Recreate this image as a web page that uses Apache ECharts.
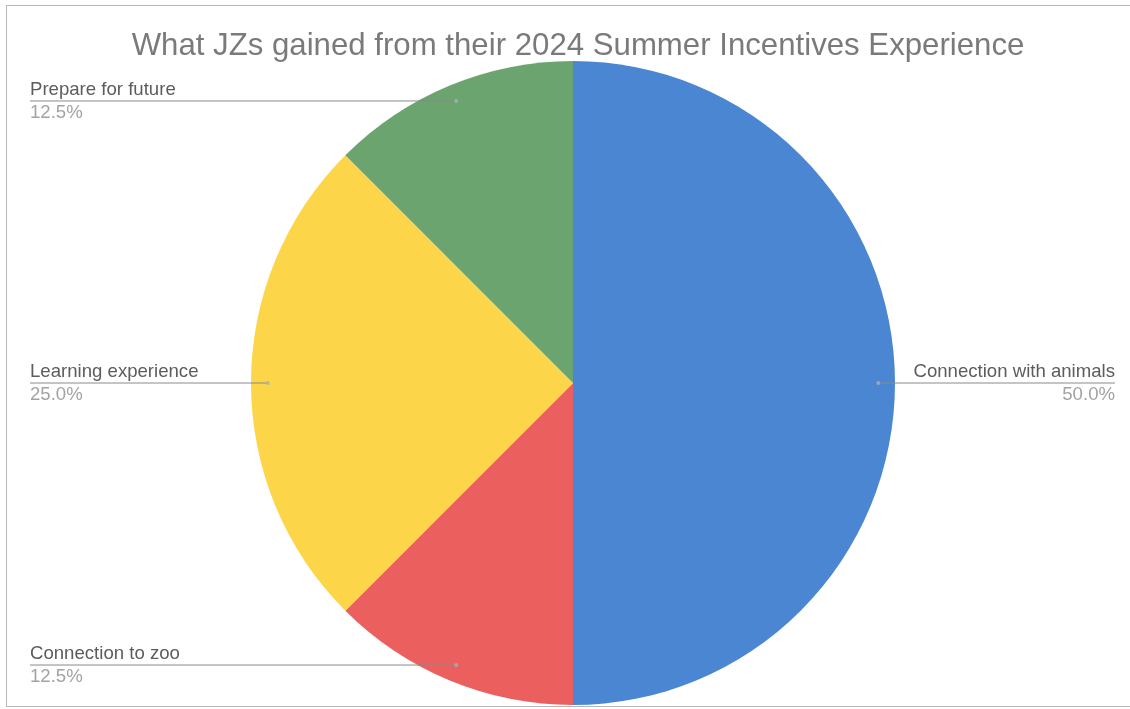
<!DOCTYPE html>
<html>
<head>
<meta charset="utf-8">
<title>What JZs gained from their 2024 Summer Incentives Experience</title>
<script src="https://cdn.jsdelivr.net/npm/echarts@6/dist/echarts.min.js"></script>
<style>
  html, body { margin: 0; padding: 0; background: #ffffff; }
  #frame {
    position: absolute; left: 6px; top: 5px; width: 1130px; height: 702px;
    border-top: 1px solid #b8b8b8; border-left: 1px solid #b8b8b8; border-bottom: 1px solid #b8b8b8;
    box-sizing: border-box; pointer-events: none;
  }
  #chart { position: absolute; left: 0; top: 0; width: 1130px; height: 709px; }
</style>
</head>
<body>
<div id="chart"></div>
<div id="frame"></div>
<script>
// Survey answers, clockwise from 12 o'clock
const categories = ['Connection with animals', 'Connection to zoo', 'Learning experience', 'Prepare for future'];
const shares = [50.0, 12.5, 25.0, 12.5];
const sliceColors = ['#4a86d2', '#ec5f5f', '#fdd548', '#6ba46f'];

const CX = 573, CY = 383, R = 322;
const DOT_RATIO = 0.948;
const LEFT_X = 30, RIGHT_X = 1115;
const FONT = 'Liberation Sans, Arial, sans-serif';

const total = shares.reduce((a, b) => a + b, 0);
const mids = [];
let acc = 0;
shares.forEach(v => { mids.push(acc + v / 2); acc += v; });

// anchor dot for each slice's leader line (mid angle, just inside the rim)
function anchorPoint(i) {
  const ang = (mids[i] / total) * 2 * Math.PI;
  return [CX + Math.sin(ang) * R * DOT_RATIO, CY - Math.cos(ang) * R * DOT_RATIO];
}

const sliceData = categories.map((name, i) => ({ name, value: shares[i], itemStyle: { color: sliceColors[i] } }));

const chart = echarts.init(document.getElementById('chart'), null, { renderer: 'canvas' });

chart.setOption({
  backgroundColor: '#ffffff',
  animation: false,
  title: {
    text: 'What JZs gained from their 2024 Summer Incentives Experience',
    left: CX,
    textAlign: 'center',
    top: 26,
    textStyle: { fontFamily: FONT, fontSize: 31.2, fontWeight: 'normal', color: '#7a7a7a' }
  },
  polar: { center: [CX, CY], radius: R },
  angleAxis: { type: 'value', min: 0, max: total, startAngle: 90, clockwise: true, show: false,
               axisLine: { show: false }, splitLine: { show: false }, axisLabel: { show: false }, axisTick: { show: false } },
  radiusAxis: { type: 'value', min: 0, max: 1, show: false,
                axisLine: { show: false }, splitLine: { show: false }, axisLabel: { show: false }, axisTick: { show: false } },
  series: [
    {
      // filled slices
      type: 'pie',
      center: [CX, CY],
      radius: [0, R],
      startAngle: 90,
      clockwise: true,
      z: 2,
      data: sliceData,
      itemStyle: { borderWidth: 0 },
      label: { show: false },
      labelLine: { show: false },
      emphasis: { disabled: true }
    },
    {
      // labels and leader lines, layered above the slices
      type: 'pie',
      center: [CX, CY],
      radius: [0, R],
      startAngle: 90,
      clockwise: true,
      z: 4,
      avoidLabelOverlap: false,
      silent: true,
      data: sliceData.map(d => ({ name: d.name, value: d.value })),
      itemStyle: { color: 'rgba(0,0,0,0)', borderWidth: 0 },
      label: {
        show: true,
        position: 'outside',
        formatter: p => '{n|' + p.name + '}\n{p|' + p.value.toFixed(1) + '%}',
        rich: {
          n: { fontFamily: FONT, fontSize: 18.6, color: '#5c5c5c', lineHeight: 23 },
          p: { fontFamily: FONT, fontSize: 18.6, color: '#a3a3a3', lineHeight: 23 }
        }
      },
      labelLine: { show: true, length: 0, length2: 0, lineStyle: { color: '#8a8a8a', width: 1 } },
      labelLayout: function (params) {
        const d = anchorPoint(params.dataIndex);
        const right = d[0] > CX;
        const ex = right ? RIGHT_X : LEFT_X;
        return {
          x: ex,
          y: d[1],
          align: right ? 'right' : 'left',
          verticalAlign: 'middle',
          labelLinePoints: [d, [ex, d[1]], [ex, d[1]]]
        };
      },
      emphasis: { disabled: true }
    },
    {
      // small markers where each leader line meets its slice
      type: 'scatter',
      coordinateSystem: 'polar',
      symbol: 'circle',
      symbolSize: 4,
      itemStyle: { color: '#a4b0bd' },
      data: mids.map(m => [DOT_RATIO, m]),
      silent: true,
      z: 6
    }
  ]
});
</script>
</body>
</html>
